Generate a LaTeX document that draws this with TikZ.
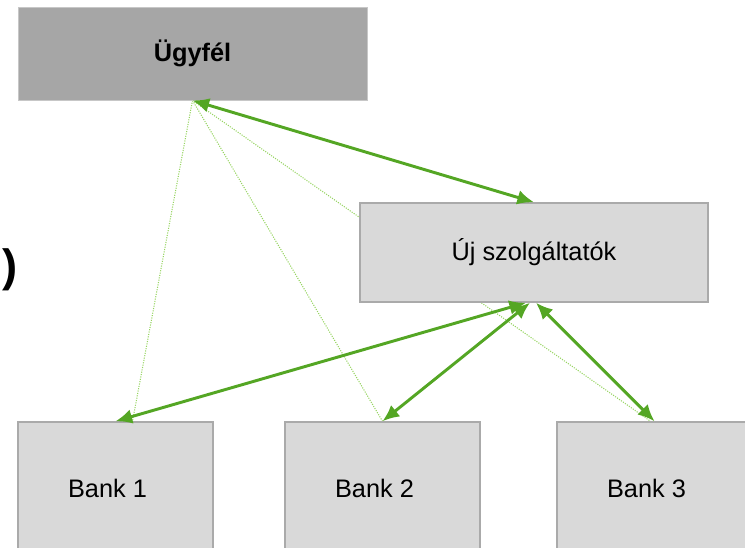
\documentclass[tikz,border=0pt]{standalone}
\usepackage{fontspec}
\setmainfont{Liberation Sans}
\usepackage{tikz}
\usetikzlibrary{arrows.meta}
\usetikzlibrary{calc}
\usetikzlibrary{backgrounds}
\usetikzlibrary{positioning}

\definecolor{linkgreen}{RGB}{84,166,36}
\definecolor{dotgreen}{RGB}{150,212,96}
\definecolor{darkbox}{RGB}{166,166,166}
\definecolor{lightbox}{RGB}{217,217,217}
\definecolor{boxline}{RGB}{170,170,170}

\begin{document}
\begin{tikzpicture}
	[
	x=0.75pt, y=-0.75pt,
  	> = {Latex[length=12.5pt,width=11pt]},
  	box/.style = {draw=boxline, line width=1.1pt, fill=lightbox, inner sep=0pt, font=\fontsize{19}{22}\selectfont},
  	bankbox/.style = {box, minimum width=195*0.75pt, minimum height=132*0.75pt},
  	link/.style = {<->, linkgreen, line width=2.2pt},
  	hint/.style = {dotgreen, line width=0.8pt, densely dotted}
  	]

	\useasboundingbox (0,0) rectangle (745,548);

	\node[box, draw=lightbox!80!gray, line width=0.6pt, fill=darkbox, minimum width=349*0.75pt, minimum height=93*0.75pt] (client) at (192.5,53.5) {\bfseries Ügyfél};
	\node[box, minimum width=348*0.75pt, minimum height=99*0.75pt] (newsp) at (534,252.5) {Új szolgáltatók};

	\node[bankbox] (bank1) at (115.5,488) {Bank 1\kern12pt};
	\node[bankbox] (bank2) at (382.5,488) {Bank 2\kern12pt};
	\node[bankbox] (bank3) at (654.5,488) {Bank 3\kern12pt};

	\node[font=\fontsize{34}{40}\selectfont\bfseries] (title) at (10.5,270) {)};

	% dotted hints behind the boxes
	\begin{scope}[on background layer]
	\draw[hint] (client.south) -- ($(bank1.north)+(17,0)$);
	\draw[hint] (client.south) -- (bank2.north);
	\draw[hint] (client.south) -- ($(bank3.north)+(-4,0)$);
	\end{scope}

	\draw[link] (client.south) -- (newsp.north);
 	\draw[link] ($(newsp.south)+(-8,0)$) -- (bank1.north);
	\draw[link] ($(newsp.south)+(-4,0)$) -- (bank2.north);
 	\draw[link] ($(newsp.south)+(2,0)$) -- (bank3.north);

\end{tikzpicture}
\end{document}
